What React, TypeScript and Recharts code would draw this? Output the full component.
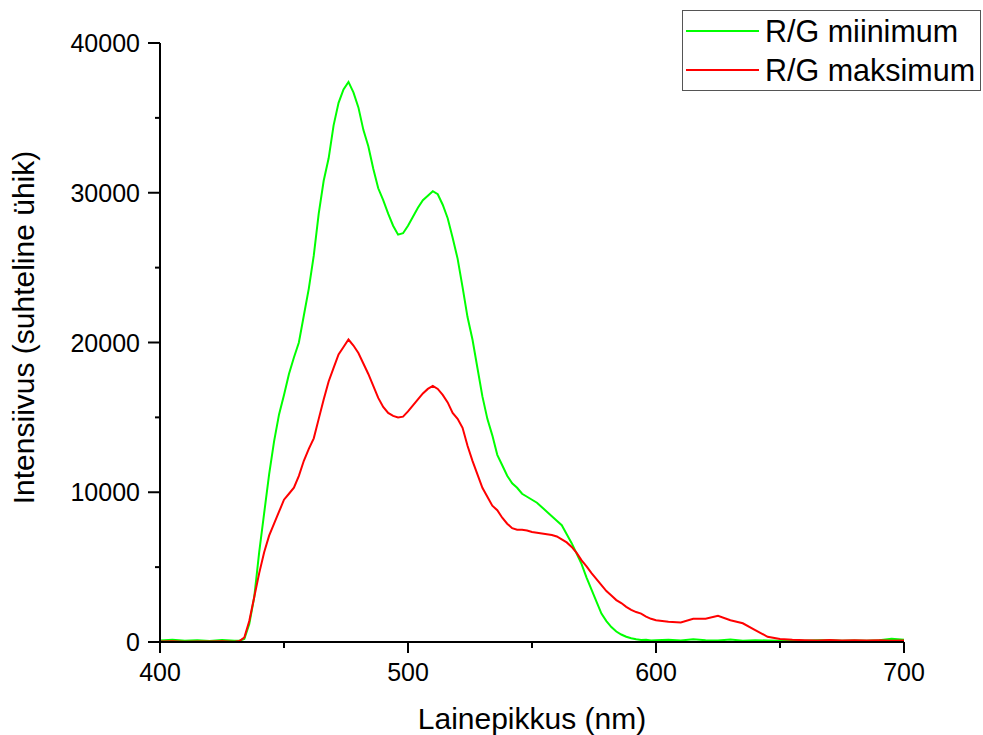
import { LineChart, Line, XAxis, YAxis } from "recharts";

const wavelengths = [
  400, 405, 410, 415, 420, 425, 430, 432, 434, 436, 438, 440, 442, 444, 446, 448, 450,
  452, 454, 456, 458, 460, 462, 464, 466, 468, 470, 472, 474, 476, 478, 480, 482, 484,
  486, 488, 490, 492, 494, 496, 498, 500, 502, 504, 506, 508, 510, 512, 514, 516, 518,
  520, 522, 524, 526, 528, 530, 532, 534, 536, 538, 540, 542, 544, 546, 548, 550, 552,
  554, 556, 558, 560, 562, 564, 566, 568, 570, 572, 574, 576, 578, 580, 582, 584, 586,
  588, 590, 592, 594, 596, 598, 600, 605, 610, 615, 620, 625, 630, 635, 640, 645, 650,
  655, 660, 665, 670, 675, 680, 685, 690, 695, 700,
];

// R/G miinimum (green)
const rgMin = [
  100, 150, 90, 120, 70, 140, 90, 80, 200, 1200, 3000, 6000, 8600, 11200, 13400, 15200, 16500,
  17900, 19000, 20000, 21800, 23600, 25800, 28600, 30800, 32300, 34500, 36000, 36900, 37400, 36700, 35700, 34200, 33100,
  31600, 30300, 29500, 28600, 27800, 27200, 27300, 27800, 28400, 29000, 29500, 29800, 30100, 29900, 29200, 28300, 27000,
  25600, 23700, 21700, 20200, 18300, 16400, 14900, 13800, 12500, 11800, 11100, 10600, 10300, 9900, 9700, 9500, 9300,
  9000, 8700, 8400, 8100, 7800, 7200, 6600, 5900, 5200, 4300, 3500, 2700, 1900, 1400, 1000, 700, 500,
  350, 250, 180, 130, 150, 100, 120, 150, 100, 180, 120, 100, 160, 90, 120, 100, 80,
  120, 90, 110, 120, 80, 100, 90, 110, 220, 150,
];

// R/G maksimum (red)
const rgMax = [
  30, 50, 20, 40, 30, 50, 20, 60, 300, 1400, 3000, 4600, 6000, 7100, 7900, 8700, 9500,
  9900, 10300, 11100, 12100, 12900, 13600, 14900, 16200, 17400, 18300, 19200, 19700, 20200, 19800, 19300, 18600, 17900,
  17100, 16300, 15700, 15300, 15100, 15000, 15050, 15400, 15800, 16200, 16600, 16900, 17100, 16900, 16500, 16000, 15300,
  14900, 14300, 13100, 12100, 11200, 10300, 9700, 9100, 8800, 8300, 7900, 7600, 7500, 7500, 7450, 7350, 7300,
  7250, 7200, 7150, 7050, 6850, 6650, 6350, 5950, 5450, 5050, 4600, 4200, 3800, 3400, 3100, 2800, 2600,
  2350, 2150, 2000, 1900, 1700, 1550, 1450, 1350, 1300, 1550, 1550, 1750, 1450, 1250, 800, 350, 200,
  150, 120, 100, 130, 100, 120, 100, 110, 90, 100,
];

const xTicks = [400, 450, 500, 550, 600, 650, 700];
const yTicks = [0, 5000, 10000, 15000, 20000, 25000, 30000, 35000, 40000];

const series = [
  { key: "min", label: "R/G miinimum", color: "#00ff00" },
  { key: "max", label: "R/G maksimum", color: "#ff0000" },
];

const data = wavelengths.map((w, i) => ({ w, min: rgMin[i], max: rgMax[i] }));

const FONT = "Arial, 'Liberation Sans', sans-serif";

const YTick = ({ x, y, payload }: any) => {
  const major = payload.value % 10000 === 0;
  return (
    <g>
      <line x1={x} y1={y} x2={x - (major ? 12 : 5)} y2={y} stroke="#000" strokeWidth={2} />
      {major && (
        <text x={x - 20} y={y} dy="0.36em" textAnchor="end" fontSize={25} fontFamily={FONT} fill="#000">
          {payload.value}
        </text>
      )}
    </g>
  );
};

const XTick = ({ x, y, payload }: any) => {
  const major = payload.value % 100 === 0;
  return (
    <g>
      <line x1={x} y1={y} x2={x} y2={y + (major ? 11 : 6)} stroke="#000" strokeWidth={2} />
      {major && (
        <text x={x} y={y + 39} textAnchor="middle" fontSize={25} fontFamily={FONT} fill="#000">
          {payload.value}
        </text>
      )}
    </g>
  );
};

const LegendBox = () => (
  <div
    style={{
      position: "absolute",
      left: 682,
      top: 10,
      border: "1.5px solid #555",
      width: 299,
      height: 81,
      boxSizing: "border-box",
      background: "#fff",
      fontFamily: FONT,
      fontSize: 30.5,
      color: "#000",
    }}
  >
    {series.map((item) => (
      <div key={item.key} style={{ display: "flex", alignItems: "center", height: 38, marginTop: 1 }}>
        <svg width={80} height={10}>
          <line x1={3} y1={5} x2={76} y2={5} stroke={item.color} strokeWidth={2} />
        </svg>
        <span style={{ marginLeft: 2 }}>{item.label}</span>
      </div>
    ))}
  </div>
);

export default function App() {
  return (
    <div style={{ position: "absolute", left: 0, top: 0, width: 983, height: 735, background: "#fff" }}>
      <LineChart width={983} height={735} data={data} margin={{ top: 43, right: 79, bottom: 33, left: 80 }}>
        <XAxis
          dataKey="w"
          type="number"
          domain={[400, 700]}
          ticks={xTicks}
          interval={0}
          tickSize={0}
          tickMargin={0}
          tickLine={false}
          tick={<XTick />}
          height={60}
          axisLine={{ stroke: "#000", strokeWidth: 2 }}
          label={{
            value: "Lainepikkus (nm)",
            position: "insideBottom",
            offset: -27,
            fontSize: 30,
            fontFamily: FONT,
            fill: "#000",
          }}
        />
        <YAxis
          type="number"
          domain={[0, 40000]}
          ticks={yTicks}
          interval={0}
          tickSize={0}
          tickMargin={0}
          tickLine={false}
          tick={<YTick />}
          width={80}
          axisLine={{ stroke: "#000", strokeWidth: 2 }}
          label={{
            value: "Intensiivus (suhteline ühik)",
            angle: -90,
            position: "insideLeft",
            dx: -62,
            dy: -15,
            fontSize: 30,
            fontFamily: FONT,
            fill: "#000",
            style: { textAnchor: "middle" },
          }}
        />
        {series.map((s) => (
          <Line
            key={s.key}
            dataKey={s.key}
            stroke={s.color}
            strokeWidth={2}
            dot={false}
            type="linear"
            isAnimationActive={false}
          />
        ))}
      </LineChart>
      <LegendBox />
    </div>
  );
}
